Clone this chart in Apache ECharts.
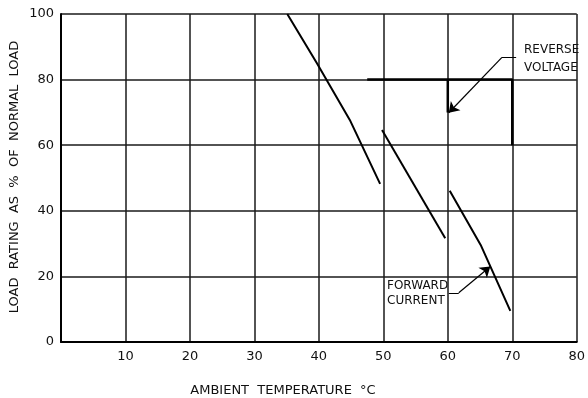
<!DOCTYPE html>
<html><head><meta charset="utf-8">
<script src="https://cdn.jsdelivr.net/npm/echarts@6/dist/echarts.min.js"></script>
<style>html,body{margin:0;padding:0;background:#fff}#c{width:588px;height:398px}</style>
</head><body><div id="c"></div>
<script>
// ---- data ----
const xTicks = [0, 10, 20, 30, 40, 50, 60, 70, 80];
const yTicks = [0, 20, 40, 60, 80, 100];
const forwardSeg1 = [[35.1, 100], [39.7, 85], [44.8, 67.7], [49.5, 48.2]];
const forwardSeg2 = [[49.8, 64.6], [59.6, 31.6]];
const forwardSeg3 = [[60.3, 46.1], [65.1, 29.6], [69.7, 9.5]];
const reverseVoltage = [[47.5, 80], [70, 80], [70, 60]];
const reverseStep = [[60, 80], [60, 70]];
const reverseLeaderTail = [[70.6, 86.8], [68.4, 86.8]];
const reverseLeaderArrow = [[68.4, 86.8], [60.15, 69.9]];
const forwardLeaderTail = [[60.15, 15], [61.7, 15]];
const forwardLeaderArrow = [[61.7, 15], [66.6, 23]];
const xTitle = 'AMBIENT  TEMPERATURE  °C';
const yTitle = 'LOAD  RATING  AS  %  OF  NORMAL  LOAD';
const reverseLabel = ['REVERSE', 'VOLTAGE'];
const forwardLabel = ['FORWARD', 'CURRENT'];

const FONT = '"DejaVu Sans", sans-serif';
const chart = echarts.init(document.getElementById('c'), null, {renderer: 'canvas'});
function curve(d, w) {
  return {type: 'line', data: d, symbol: 'none', silent: true, animation: false,
    lineStyle: {color: '#000', width: w || 2}};
}
chart.setOption({
  animation: false,
  backgroundColor: '#fff',
  grid: {left: 61, right: 6, top: 14, bottom: 56},
  xAxis: {
    type: 'value', min: xTicks[0], max: xTicks[xTicks.length - 1], interval: 10,
    axisLine: {show: true, lineStyle: {color: '#000', width: 2}},
    axisTick: {show: false},
    splitLine: {show: true, lineStyle: {color: '#1a1a1a', width: 1.5}},
    axisLabel: {color: '#111', fontFamily: FONT, fontSize: 13, margin: 8,
      formatter: v => (v === 0 ? '' : String(v))}
  },
  yAxis: {
    type: 'value', min: yTicks[0], max: yTicks[yTicks.length - 1], interval: 20,
    axisLine: {show: true, lineStyle: {color: '#000', width: 2}},
    axisTick: {show: false},
    splitLine: {show: true, lineStyle: {color: '#1a1a1a', width: 1.5}},
    axisLabel: {color: '#111', fontFamily: FONT, fontSize: 13, margin: 7}
  },
  series: [
    curve(forwardSeg1), curve(forwardSeg2), curve(forwardSeg3),
    curve(reverseVoltage, 2.5), curve(reverseStep, 2.5),
    {type: 'lines', coordinateSystem: 'cartesian2d', silent: true,
      data: [{coords: reverseLeaderTail}, {coords: forwardLeaderTail}],
      symbol: ['none', 'none'], lineStyle: {color: '#000', width: 1.2, opacity: 1, curveness: 0}},
    {type: 'lines', coordinateSystem: 'cartesian2d', silent: true,
      data: [{coords: reverseLeaderArrow}, {coords: forwardLeaderArrow}],
      symbol: ['none', 'arrow'], symbolSize: [5, 10],
      lineStyle: {color: '#000', width: 1.2, opacity: 1, curveness: 0}}
  ],
  graphic: [
    {type: 'text', left: 524, top: 44, style: {text: reverseLabel[0], font: '12px ' + FONT, fill: '#111'}},
    {type: 'text', left: 524, top: 62, style: {text: reverseLabel[1], font: '12px ' + FONT, fill: '#111'}},
    {type: 'text', left: 387, top: 280, style: {text: forwardLabel[0], font: '12px ' + FONT, fill: '#111'}},
    {type: 'text', left: 387, top: 295, style: {text: forwardLabel[1], font: '12px ' + FONT, fill: '#111'}},
    {type: 'text', x: 283, y: 391, style: {text: xTitle, font: '13px ' + FONT, fill: '#111', align: 'center', verticalAlign: 'middle'}},
    {type: 'text', x: 15, y: 177, rotation: Math.PI / 2, style: {text: yTitle, font: '13px ' + FONT, fill: '#111', align: 'center', verticalAlign: 'middle'}}
  ]
});
</script></body></html>
